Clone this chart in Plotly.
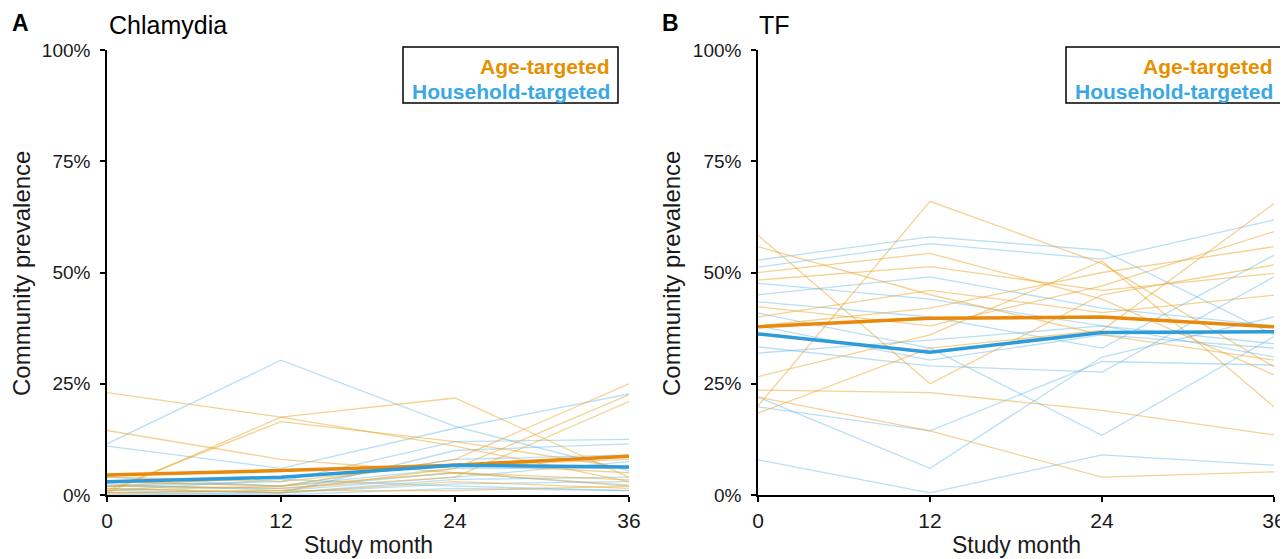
import plotly.graph_objects as go

months = [0, 12, 24, 36]

# Panel A: Chlamydia (percent)
chl_age_communities = [
    [23.0, 17.5, 11.0, 3.0],
    [0.5, 17.5, 21.8, 4.0],
    [14.5, 8.0, 5.0, 2.2],
    [1.0, 16.5, 12.0, 6.0],
    [1.0, 2.0, 8.0, 25.0],
    [0.5, 1.0, 6.0, 22.5],
    [2.0, 1.5, 4.0, 21.0],
    [3.0, 2.0, 5.0, 3.4],
    [1.5, 0.5, 3.0, 1.5],
    [4.0, 3.0, 7.0, 5.0],
    [0.5, 1.0, 1.0, 2.0],
    [2.0, 4.0, 6.5, 8.0],
]
chl_hh_communities = [
    [11.5, 30.3, 15.4, 5.4],
    [11.0, 6.0, 15.0, 22.7],
    [2.0, 3.0, 12.0, 12.5],
    [1.0, 0.5, 10.0, 11.5],
    [3.0, 2.0, 6.0, 6.0],
    [2.5, 1.0, 4.0, 7.5],
    [1.5, 0.5, 2.5, 3.0],
    [0.5, 0.0, 1.5, 1.0],
    [4.0, 2.0, 8.0, 9.0],
    [0.0, 0.5, 3.5, 4.0],
    [1.0, 3.5, 2.0, 1.0],
    [2.0, 1.5, 5.0, 2.0],
]
chl_age_mean = [4.5, 5.5, 6.7, 8.7]
chl_hh_mean = [3.0, 4.0, 6.7, 6.3]

# Panel B: TF (percent)
tf_age_communities = [
    [20.0, 66.0, 52.0, 28.8],
    [58.4, 25.0, 45.0, 51.7],
    [55.8, 45.0, 36.0, 30.3],
    [50.0, 54.3, 44.0, 27.0],
    [48.3, 51.3, 46.0, 49.8],
    [42.3, 38.0, 47.0, 59.2],
    [38.0, 42.0, 50.0, 55.8],
    [26.6, 36.0, 52.6, 19.8],
    [23.6, 23.0, 19.0, 13.5],
    [22.0, 14.4, 4.0, 5.2],
    [18.4, 33.0, 37.0, 65.5],
    [40.0, 46.0, 41.0, 44.9],
]
tf_hh_communities = [
    [52.8, 58.0, 55.0, 36.0],
    [51.2, 56.5, 53.0, 61.8],
    [47.6, 44.0, 38.0, 31.0],
    [43.4, 40.0, 33.0, 53.9],
    [40.9, 33.0, 13.4, 35.6],
    [33.3, 29.0, 27.6, 49.0],
    [31.9, 34.8, 38.0, 34.0],
    [22.0, 6.0, 31.0, 40.0],
    [19.8, 14.4, 30.0, 29.2],
    [7.9, 0.5, 9.0, 6.7],
    [45.0, 49.0, 42.0, 38.0],
    [38.0, 30.3, 36.0, 33.0],
]
tf_age_mean = [37.8, 39.7, 40.0, 37.8]
tf_hh_mean = [36.2, 32.1, 36.5, 36.7]

y_ticks = [0, 25, 50, 75, 100]
y_tick_labels = ["0%", "25%", "50%", "75%", "100%"]
x_ticks = [0, 12, 24, 36]

panel_titles = ["Chlamydia", "TF"]
panel_letters = ["A", "B"]
legend_labels = ["Age-targeted", "Household-targeted"]

ORANGE_THIN = "rgba(236,165,40,0.50)"
BLUE_THIN = "rgba(90,178,228,0.42)"
ORANGE_THICK = "#E8890C"
BLUE_THICK = "#2E9BDA"
ORANGE_TXT = "#E69000"
BLUE_TXT = "#3AA8E4"

# page has an 8px body margin; work in screen pixels and convert
OFF = 8
W, H = 1288 - OFF, 559 - OFF
fig = go.Figure()

panels = [
    (chl_age_communities, chl_hh_communities, chl_age_mean, chl_hh_mean, "x", "y"),
    (tf_age_communities, tf_hh_communities, tf_age_mean, tf_hh_mean, "x2", "y2"),
]
for age_c, hh_c, age_m, hh_m, xa, ya in panels:
    for vals in hh_c:
        fig.add_trace(go.Scatter(x=months, y=vals, mode="lines", xaxis=xa, yaxis=ya,
                                 line=dict(color=BLUE_THIN, width=1.3), showlegend=False, hoverinfo="skip"))
    for vals in age_c:
        fig.add_trace(go.Scatter(x=months, y=vals, mode="lines", xaxis=xa, yaxis=ya,
                                 line=dict(color=ORANGE_THIN, width=1.3), showlegend=False, hoverinfo="skip"))
    fig.add_trace(go.Scatter(x=months, y=age_m, mode="lines", xaxis=xa, yaxis=ya,
                             line=dict(color=ORANGE_THICK, width=3.5), showlegend=False))
    fig.add_trace(go.Scatter(x=months, y=hh_m, mode="lines", xaxis=xa, yaxis=ya,
                             line=dict(color=BLUE_THICK, width=3.5), showlegend=False))

# screen-pixel geometry
ax_left = [107, 758]
ax_right = [629, 1274]
y_top, y_bot = 50, 495

def px(x):
    return (x - OFF) / W

def py(y):
    return 1 - (y - OFF) / H

font = "Liberation Sans, Arial, sans-serif"
axis_common = dict(showline=True, linecolor="black", linewidth=1.5, ticks="outside",
                   ticklen=5, tickwidth=1.5, tickcolor="black", showgrid=False, zeroline=False)

layout = dict(width=W, height=H, margin=dict(l=0, r=0, t=0, b=0, autoexpand=False),
              plot_bgcolor="white", paper_bgcolor="white", showlegend=False)
for i, (xn, yn) in enumerate([("xaxis", "yaxis"), ("xaxis2", "yaxis2")]):
    layout[xn] = dict(axis_common, domain=[px(ax_left[i]), px(ax_right[i])], range=[0, 36],
                      tickvals=x_ticks, anchor="y" if i == 0 else "y2", ticklabelstandoff=1,
                      tickfont=dict(family=font, size=21, color="#1a1a1a"))
    layout[yn] = dict(axis_common, domain=[py(y_bot), py(y_top)], range=[0, 100],
                      tickvals=y_ticks, ticktext=y_tick_labels, anchor="x" if i == 0 else "x2",
                      ticklabelstandoff=6,
                      tickfont=dict(family=font, size=19, color="#1a1a1a"))
fig.update_layout(**layout)

annotations = []
shapes = []
box_left = [403, 1066]
box_right = [618, 1281]
for i in range(2):
    annotations.append(dict(x=px([10, 660][i]), y=py(23), xref="paper", yref="paper",
                            text=f"<b>{panel_letters[i]}</b>", showarrow=False, xanchor="left",
                            yanchor="middle", font=dict(family=font, size=23, color="black")))
    annotations.append(dict(x=px([107, 757][i]), y=py(25), xref="paper", yref="paper",
                            text=panel_titles[i], showarrow=False, xanchor="left",
                            yanchor="middle", font=dict(family=font, size=25, color="black")))
    annotations.append(dict(x=px((ax_left[i] + ax_right[i]) / 2), y=py(545), xref="paper", yref="paper",
                            text="Study month", showarrow=False, xanchor="center",
                            yanchor="middle", font=dict(family=font, size=23, color="#1a1a1a")))
    annotations.append(dict(x=px([21, 671][i]), y=py(274), xref="paper", yref="paper",
                            text="Community prevalence", showarrow=False, textangle=-90,
                            xanchor="center", yanchor="middle",
                            font=dict(family=font, size=24, color="#1a1a1a")))
    shapes.append(dict(type="rect", xref="paper", yref="paper",
                       x0=px(box_left[i]), x1=px(box_right[i]), y0=py(47), y1=py(103),
                       line=dict(color="black", width=1.5), fillcolor="white", layer="above"))
    annotations.append(dict(x=px(box_right[i] - 6), y=py(66), xref="paper", yref="paper",
                            text=f"<b>{legend_labels[0]}</b>", showarrow=False, xanchor="right",
                            yanchor="middle", font=dict(family=font, size=21, color=ORANGE_TXT)))
    annotations.append(dict(x=px(box_right[i] - 6), y=py(91), xref="paper", yref="paper",
                            text=f"<b>{legend_labels[1]}</b>", showarrow=False, xanchor="right",
                            yanchor="middle", font=dict(family=font, size=21, color=BLUE_TXT)))
fig.update_layout(annotations=annotations, shapes=shapes)

fig.write_html("out.html")
